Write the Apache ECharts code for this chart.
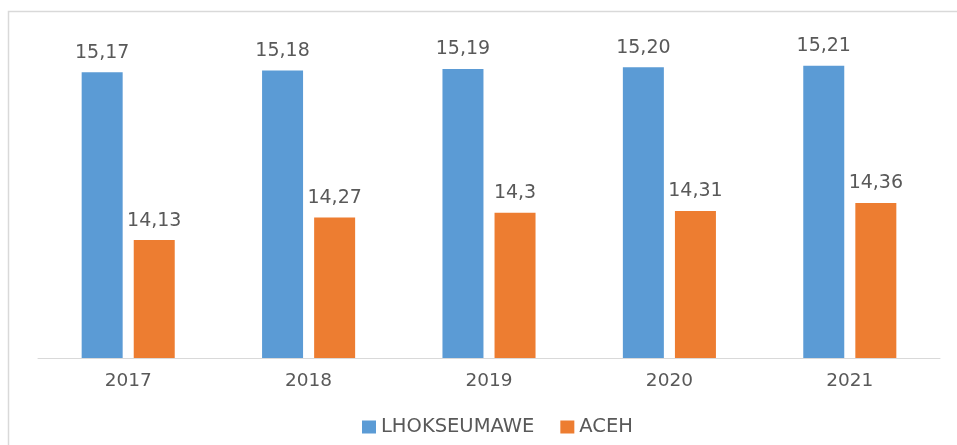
<!DOCTYPE html>
<html>
<head>
<meta charset="utf-8">
<script src="https://cdn.jsdelivr.net/npm/echarts@6/dist/echarts.min.js"></script>
<style>
  html, body { margin: 0; padding: 0; background: #fff; }
  #chart { width: 957px; height: 445px; }
</style>
</head>
<body>
<div id="chart"></div>
<script>
var years = ['2017', '2018', '2019', '2020', '2021'];
var lhokValues = [15.17, 15.18, 15.19, 15.20, 15.21];
var acehValues = [14.13, 14.27, 14.3, 14.31, 14.36];
var lhokLabels = ['15,17', '15,18', '15,19', '15,20', '15,21'];
var acehLabels = ['14,13', '14,27', '14,3', '14,31', '14,36'];

var textColor = '#595959';
var fontName = 'DejaVu Sans';

var chart = echarts.init(document.getElementById('chart'));

var option = {
    animation: false,
    backgroundColor: '#fff',
    graphic: [{
        type: 'rect',
        silent: true,
        shape: { x: 8.5, y: 11.5, width: 1000, height: 500 },
        style: { fill: 'none', stroke: '#d9d9d9', lineWidth: 1.5 }
    }],
    grid: {
        left: 38,
        right: 17,
        top: 35,
        bottom: 87
    },
    legend: {
        left: 357,
        top: 412,
        itemWidth: 14,
        itemHeight: 13,
        itemGap: 26,
        icon: 'rect',
        textStyle: { color: textColor, fontSize: 19.5, fontFamily: fontName },
        data: ['LHOKSEUMAWE', 'ACEH']
    },
    xAxis: {
        type: 'category',
        data: years,
        axisLine: { lineStyle: { color: '#d9d9d9', width: 1 } },
        axisTick: { show: false },
        axisLabel: { color: textColor, fontSize: 18.5, fontFamily: fontName, margin: 14 }
    },
    yAxis: {
        type: 'value',
        show: false,
        min: 13.4,
        max: 15.4,
        splitLine: { show: false }
    },
    series: [
        {
            name: 'LHOKSEUMAWE',
            type: 'bar',
            data: lhokValues,
            barWidth: 41,
            barGap: '27%',
            itemStyle: { color: '#5B9BD5' },
            label: {
                show: true,
                position: 'top',
                distance: 10,
                color: textColor,
                fontSize: 19,
                fontFamily: fontName,
                formatter: function (p) { return lhokLabels[p.dataIndex]; }
            }
        },
        {
            name: 'ACEH',
            type: 'bar',
            data: acehValues,
            barWidth: 41,
            itemStyle: { color: '#ED7D31' },
            label: {
                show: true,
                position: 'top',
                distance: 10,
                color: textColor,
                fontSize: 19,
                fontFamily: fontName,
                formatter: function (p) { return acehLabels[p.dataIndex]; }
            }
        }
    ]
};

chart.setOption(option);
</script>
</body>
</html>
